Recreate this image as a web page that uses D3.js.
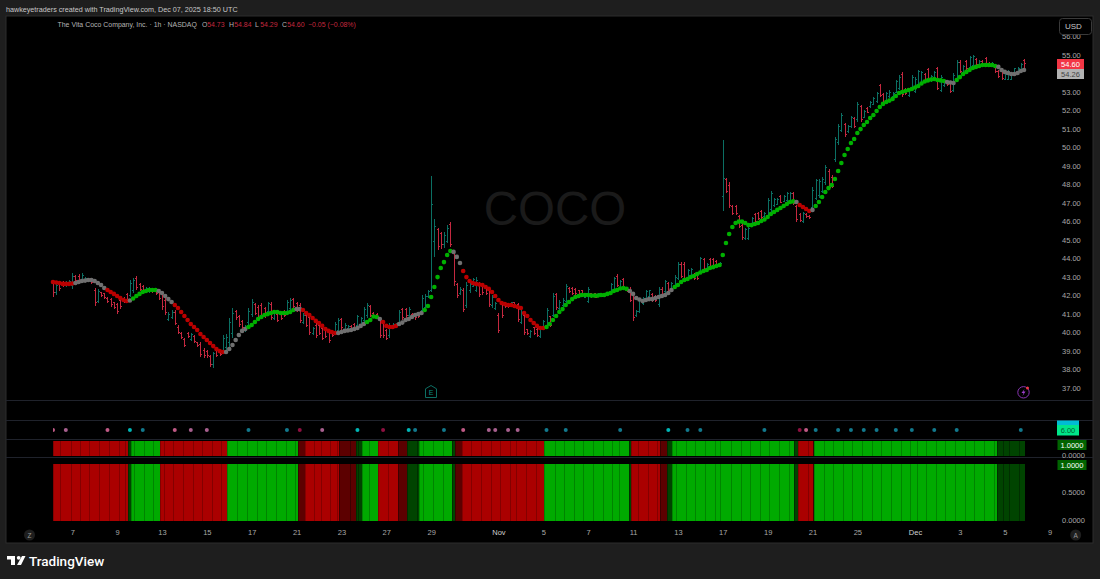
<!DOCTYPE html>
<html><head><meta charset="utf-8">
<script src="https://cdn.jsdelivr.net/npm/d3@7/dist/d3.min.js"></script>
<style>html,body{margin:0;padding:0;background:#1e1e1e;overflow:hidden}svg{display:block}text{font-family:"Liberation Sans",Arial,sans-serif}</style>
</head><body><svg id="c" width="1100" height="579"></svg>
<script>
const tickLabels=["7","9","13","15","17","21","23","27","29","Nov","5","7","11","13","17","19","21","25","Dec","3","5","9"];
const tickBars=[6,20,34,48,62,76,90,104,118,139,153,167,181,195,209,223,237,251,269,283,297,311];
const priceTicks=[37,38,39,40,41,42,43,44,45,46,47,48,49,50,51,52,53,54,55,56];
const opens=[
42.7,42.2,42.7,42.75,42.6,42.65,42.6,43.1,43.1,42.85,
42.85,42.95,42.95,42.35,41.75,42.2,42.15,41.9,41.85,41.65,
41.55,41.8,41.9,42.1,42.05,42.3,43,42.65,42.55,42.3,
42.25,42.4,42.3,42.25,42.1,41.8,40.75,40.85,41.15,40.35,
40,39.65,40,39.65,39.85,39.5,39.4,39.1,39.05,38.75,
38.3,39.1,38.95,39.1,39.25,39.5,40,41.2,40.9,40.65,
40.15,40.6,41.05,41.55,41.4,41.5,41.35,41.2,41.55,40.8,
41.05,41.05,41.2,41.2,41.35,41.85,41.6,41.5,40.6,41,
40.85,40,40.45,40.45,40.25,40.2,40.1,40.05,40.1,40.15,
40.75,40.15,40.25,40.4,40.5,40.45,40.45,40.7,41,41.45,
41.1,41.05,40.75,40.6,40.15,39.9,40.4,40.35,40.55,41.3,
41.3,40.95,41.05,41,41,41.25,41.4,42,42.35,45,
45.6,45.4,44.8,45,45.9,44.4,42.65,42.15,42.3,41.5,
42.3,42.55,42.35,42.65,42.6,42.55,42.4,41.5,41.35,41,
41.55,41.65,41.6,41.5,41.65,41.55,40.6,41,40.2,39.85,
40.3,40.2,39.85,40.25,40.45,40.9,41,42.1,41.35,41.5,
41.75,42.45,42.45,42.4,42.3,42.3,41.97,41.75,42.15,42.15,
42,42.15,42,42.05,42.25,42.35,43.1,42.5,42.9,42.45,
42.4,42.05,40.95,41.2,41.6,41.9,42,42.1,42,41.55,
42.4,42.25,42.7,42.4,42.55,43,43.75,43.75,43.05,43.1,
43.2,43.2,43.3,44,43.5,44,44,43.9,43.65,47.38,
48.3,48,46.85,46.85,46.3,45.85,45.15,45.15,45.85,46.45,
46.5,46.6,46.3,46.4,46.7,46.9,47,47.4,47.15,47.2,
47.2,47.55,46.85,46.45,46.05,46.45,46.35,46.8,47.3,47.45,
47.7,48.15,48.75,48.45,49.4,50.3,51,51.3,50.9,51.2,
51.6,51.55,52.25,51.7,52.15,52.25,52.4,52.55,53.4,52.9,
52.55,52.8,52.8,53.05,53.25,54,53.2,52.85,53.25,53.1,
53.4,53.5,54,54.25,53.65,53.8,54.3,53.15,53.4,53.65,
53.5,53.15,53.7,54.65,54.05,54.7,54.4,54.5,54.8,54.45,
54.7,54.85,54.6,54.45,54.45,54.15,54.15,53.75,53.75,53.75,
54,54.1,54.2,54.73];
const highs=[
42.89,42.73,42.78,42.84,42.84,42.89,43.27,43.16,43.22,43.27,
43.05,43,43,42.46,42.41,42.24,42.19,41.97,41.92,41.7,
41.65,41.92,41.97,42.19,42.89,43,43.11,42.73,42.62,42.51,
42.51,42.46,42.35,42.35,42.24,41.92,41.16,41.27,41.27,40.46,
40.08,39.76,40.08,40.03,39.92,39.54,39.54,39.22,39.11,38.84,
39,39.22,39,39.92,39.97,40.84,41.38,41.27,41,40.73,
40.46,41.38,41.86,41.65,41.54,41.65,41.43,41.7,41.7,41.27,
41.16,41.11,41.27,41.81,41.92,41.92,41.7,41.65,41.11,41.11,
41,40.35,40.57,40.57,40.35,40.3,40.19,40.08,40.62,40.84,
40.84,40.57,40.46,40.46,40.57,41,40.89,41.43,41.65,41.54,
41.16,41.11,40.84,40.73,40.24,40.57,40.57,40.57,41.27,41.38,
41.38,41.43,41.11,41.05,41.05,42.08,42.14,42.35,48.51,46.19,
45.7,45.49,45.49,45.86,46.03,44.51,42.73,42.51,42.46,42.78,
42.78,43,43.05,42.78,42.73,42.62,42.51,42.08,41.7,41.11,
41.65,41.7,41.65,41.7,41.7,41.65,41.27,41.16,40.24,40.19,
40.35,40.3,40.35,40.73,41.38,40.95,42.19,42.19,41.81,41.92,
42.68,42.51,42.51,42.46,42.35,42.35,42.19,42.51,42.19,42.19,
42.19,42.19,42.19,42.19,42.73,43.05,43.22,42.89,43,42.51,
42.51,42.19,41.27,41.92,41.97,42.35,42.35,42.19,42.08,42.51,
42.51,42.89,42.78,42.78,43.16,43.86,43.86,43.86,43.49,43.54,
43.27,43.27,44.14,44.08,43.81,44.08,44.08,43.97,43.86,50.46,
48.41,48.19,46.95,46.95,46.41,45.97,45.7,45.76,46.3,46.51,
46.57,46.68,46.57,47.32,47.7,47.32,47.32,47.49,47.49,47.65,
47.65,47.65,46.95,46.51,46.57,46.51,46.41,47.92,48.35,48.35,
48.46,49.11,48.89,48.57,50.62,51.32,51.92,51.38,51.27,51.76,
51.7,52.51,52.35,52.08,52.24,52.57,52.78,53.05,53.49,53,
53.05,53.16,53.05,53.7,53.97,54.14,53.27,53.27,53.97,53.86,
54.24,54.19,54.08,54.35,53.97,54.19,54.41,53.97,53.7,53.7,
53.59,54.08,54.78,54.78,54.51,54.78,55,55.05,54.89,54.78,
54.78,54.95,54.68,54.68,54.51,54.24,54.24,54.08,54.24,54.08,
54.35,54.41,54.62,54.84];
const lows=[
41.97,42.08,42.3,42.51,42.51,42.57,42.41,42.73,42.73,42.73,
42.78,42.78,42.68,41.49,41.65,41.97,41.86,41.65,41.43,41.32,
41.05,41.32,41.65,41.76,41.97,42.19,42.35,42.3,42.24,42.24,
42.19,42.19,42.08,41.81,41.27,41,40.68,40.78,40.46,39.97,
39.7,39.27,39.76,39.59,39.49,39.27,38.73,38.68,38.68,38.19,
38.14,38.73,38.78,39,39.11,39.27,39.76,40.73,40.35,40.19,
40.08,40.46,40.89,41,40.73,40.84,40.84,41.11,40.73,40.73,
40.62,40.73,40.89,41.11,41.27,41.38,41.16,40.57,40.51,40.35,
39.92,39.92,39.76,39.92,39.65,39.76,39.49,39.81,40.03,40.03,
40.19,40.08,40.19,40.19,40.19,40.35,40.35,40.57,40.84,40.89,
40.89,40.84,39.76,39.76,39.65,39.76,40.35,40.3,40.46,40.73,
40.84,40.84,40.84,40.73,40.84,41.11,41.27,41.92,42.24,44.14,
44.51,44.57,44.62,44.89,44.68,42.57,41.92,42.08,41.16,41.38,
42.19,42.51,42.24,41.97,42.08,42.08,41.43,41.38,41.27,40.03,
40.84,41.38,41.38,41.43,41.38,40.62,40.51,39.92,39.92,39.76,
39.92,39.81,39.76,40.19,40.35,40.35,40.89,41.27,41.27,41.43,
41.65,42.19,42.08,42.08,41.97,41.97,41.92,41.65,41.92,41.92,
41.97,41.97,41.97,42.03,42.19,42.24,42.51,42.46,42.35,42.24,
41.7,40.68,40.89,41.11,41.54,41.81,41.92,41.7,41.7,41.43,
41.97,42.19,42.24,42.35,42.46,42.89,43,42.89,43,43.05,
42.89,42.89,43.22,43.32,43.43,43.54,43.59,43.59,43.59,46.62,
47.59,46.78,46.41,46.41,45.7,45.05,45.05,45.05,45.76,45.97,
46.14,46.19,46.24,46.3,46.57,46.84,46.95,47.05,47.11,47.11,
47.11,46.95,46.03,46.03,45.97,46.24,46.19,46.68,47.22,47.32,
47.59,48.03,47.76,47.86,49.27,50.19,50.89,50.62,50.84,51.11,
51.11,51.43,51.43,51.65,51.92,52.19,52.35,52.46,52.78,52.35,
52.51,52.73,52.73,53,53.16,52.78,52.89,52.78,53.16,53,
53.32,53.43,53.59,53.7,53.59,53.76,53.16,53.05,53.32,53.38,
53,53.05,53.59,54.08,53.97,54.24,54.35,54.41,54.51,54.41,
54.41,54.41,54.41,54.41,54.08,53.81,53.7,53.7,53.7,53.7,
53.97,54.08,54.14,54.29];
const closes=[
42.2,42.6,42.45,42.6,42.75,42.8,43.1,42.85,42.85,43.15,
43,42.85,42.75,41.7,42.25,42.05,41.95,41.75,41.55,41.4,
41.2,41.45,41.75,41.85,42.7,42.85,42.5,42.4,42.35,42.45,
42.45,42.25,42.15,41.9,41.45,41.15,41.05,41.15,40.55,40.05,
39.8,39.35,39.85,39.95,39.55,39.35,38.85,38.8,38.8,38.3,
38.9,38.8,38.85,39.75,39.8,40.6,41.1,40.85,40.5,40.3,
40.4,41.2,41.7,41.1,40.85,41,40.95,41.6,40.85,41.15,
40.7,40.8,40.95,41.7,41.8,41.45,41.25,40.7,41,40.45,
40.05,40.25,39.9,40,39.75,39.85,39.6,39.9,40.5,40.7,
40.3,40.45,40.4,40.25,40.25,40.9,40.8,41.3,41.5,41,
40.95,40.9,39.9,39.9,39.75,40.45,40.5,40.5,41.15,40.85,
40.95,41.3,40.9,40.85,40.9,41.9,42,42.25,47,45.8,
44.7,44.8,45.3,45.7,44.8,42.8,42.05,42.4,41.3,42.6,
42.65,42.9,42.85,42.1,42.2,42.15,41.55,41.95,41.6,40.15,
40.95,41.45,41.45,41.65,41.45,40.75,41.15,40.05,40,40.1,
40,39.9,40.25,40.65,41.25,40.45,42,41.4,41.7,41.8,
42.55,42.25,42.15,42.15,42.05,42.05,42.15,42.4,42,41.97,
42.15,42,42.15,42.15,42.65,42.95,42.6,42.8,42.45,42.3,
41.8,40.85,41.2,41.8,41.9,42.25,42.3,41.8,41.8,42.4,
42.05,42.8,42.35,42.7,43.05,43.75,43.1,43,43.4,43.45,
42.95,42.95,44.05,43.4,43.75,43.6,43.65,43.65,43.8,48.4,
47.7,46.9,46.5,46.5,45.8,45.2,45.6,45.65,46.2,46.05,
46.2,46.25,46.5,47.2,47.55,47.25,47.25,47.1,47.4,47.55,
47.55,47.05,46.15,46.1,46.5,46.3,46.25,47.75,48.25,48.2,
48.35,48.95,47.9,47.95,50.5,51.2,51.8,50.75,51.2,51.65,
51.2,52.4,51.55,52,51.97,52.5,52.7,52.95,52.85,52.45,
52.95,53.05,53,53.6,53.85,52.9,52.95,53.2,53.85,53.75,
54.15,54.1,53.65,53.75,53.9,54.1,53.25,53.85,53.65,53.45,
53.1,53.95,54.65,54.15,54.45,54.3,54.9,54.95,54.55,54.7,
54.5,54.5,54.45,54.6,54.15,53.9,53.8,54,54.15,54,
54.3,54.35,54.55,54.6];
const maValues=[
42.78,42.76,42.73,42.68,42.68,42.68,42.7,42.73,42.78,42.84,
42.86,42.89,42.89,42.84,42.73,42.62,42.46,42.35,42.24,42.14,
42.03,41.92,41.81,41.76,41.78,41.89,42.03,42.14,42.24,42.3,
42.35,42.35,42.35,42.3,42.19,42.03,41.86,41.7,41.54,41.38,
41.16,40.95,40.73,40.51,40.35,40.19,39.97,39.81,39.65,39.49,
39.32,39.16,39.05,39,39,39.16,39.38,39.65,39.92,40.14,
40.24,40.35,40.46,40.62,40.78,40.89,41,41.05,41.11,41.16,
41.16,41.11,41.11,41.11,41.16,41.27,41.32,41.32,41.27,41.11,
41,40.84,40.68,40.57,40.41,40.24,40.14,40.08,40.03,40.03,
40.08,40.14,40.16,40.19,40.24,40.3,40.41,40.51,40.62,40.73,
40.92,40.89,40.78,40.62,40.41,40.35,40.35,40.41,40.51,40.59,
40.73,40.78,40.89,41,41.05,41.11,41.27,41.49,41.97,42.51,
43.05,43.54,43.86,44.24,44.46,44.41,44.14,43.81,43.38,43.05,
42.84,42.73,42.68,42.65,42.62,42.51,42.41,42.24,42.03,41.81,
41.65,41.59,41.54,41.54,41.49,41.43,41.38,41.11,40.95,40.73,
40.57,40.41,40.3,40.3,40.35,40.51,40.73,40.95,41.16,41.32,
41.54,41.7,41.86,41.97,42.03,42.08,42.08,42.08,42.05,42.05,
42.05,42.08,42.08,42.14,42.19,42.3,42.35,42.43,42.46,42.41,
42.3,42.14,41.92,41.84,41.76,41.81,41.86,41.86,41.92,41.97,
42.03,42.08,42.19,42.35,42.51,42.62,42.78,42.89,42.95,43.05,
43.11,43.22,43.3,43.38,43.43,43.54,43.59,43.65,43.7,44.24,
44.89,45.38,45.76,45.97,46.05,46.05,45.97,45.86,45.86,45.92,
45.97,46.08,46.16,46.3,46.46,46.57,46.68,46.78,46.89,47,
47.11,47.14,47.11,46.95,46.84,46.73,46.62,46.68,46.89,47.11,
47.38,47.65,47.86,48.03,48.35,48.78,49.22,49.65,49.97,50.3,
50.51,50.84,51.05,51.27,51.43,51.65,51.81,52.03,52.24,52.41,
52.51,52.59,52.68,52.84,53,53.05,53.11,53.16,53.22,53.3,
53.38,53.51,53.62,53.68,53.73,53.76,53.7,53.68,53.65,53.59,
53.57,53.54,53.7,53.86,54.03,54.14,54.24,54.35,54.41,54.46,
54.51,54.51,54.51,54.51,54.46,54.41,54.24,54.14,54.08,54.03,
54.03,54.08,54.19,54.24];
const maTrend=["R","A","R","A","G","A","R","A","G","A","R","A","G","A","R","A","G","A","R","G","A","G","A","R","A","G","A","G","A"];
const maTrendRuns=[7,10,7,1,8,5,16,7,15,2,11,9,4,1,5,8,9,3,26,26,14,38,1,4,1,41,3,13,9];
const blockStarts=[0,2.3,5.5,8.4,11.3,14.4,17.4,20.5,22.6,23.5,24.3,25.4,28.4,31.3,33.5,34.5,37.4,40.5,43.6,46.4,49.5,52.4,54.4,57.4,60.4,63.6,66.5,69.6,72.6,75.5,76.5,78.6,81.4,83.5,86.4,88.5,89.3,92.7,94.5,95.3,96.3,98.5,101.3,104.4,107.6,110.5,113.5,114.3,115.6,118.5,121.6,124.4,125.4,127.5,130.4,133.5,136.6,139.5,142.5,144.5,147.6,150.6,153.3,156.6,159.5,162.5,165.5,168.4,171.5,174.4,176.5,179.6,180.4,182.6,185.6,188.4,189.3,191.5,193.3,194.4,197.5,200.4,203.5,206.5,208.2,211.5,214.6,217.4,220.5,223.4,226.5,229.6,231.3,232.4,235.5,237.1,237.5,240.5,243.5,246.4,249.4,252.5,255.5,258.5,261.4,264.5,267.4,269.5,272.4,275.4,278.4,281.4,284.5,287.5,290.5,293.5,294.5,296.5,298.4,301.3];
const blockStateKinds=["R","g","G","R","G","r","R","r","g","G","R","r","g","G","g","r","R","G","g","R","r","g","G","g","R","r","G","g"];
const blockStateRuns=[9,1,4,8,8,1,5,2,2,2,2,1,2,4,1,1,9,9,1,4,1,1,14,1,2,1,20,4];
const blockEnd=303.3;
const blockValue=1;
const signalBars=[0,4,17,24,28,38,43,48,61,73,77,84,95,103,111,113,122,128,136,138,142,145,154,160,177,192,198,202,222,233,235,238,245,249,253,257,263,268,275,282,302];
const signalKinds=["p","m","p","c","t","p","m","m","t","t","d","m","c","d","c","t","t","p","m","m","m","m","t","t","t","c","t","t","t","d","p","t","t","t","t","t","t","t","t","t","t"];

const svg=d3.select("#c");
const L=53,R=1024;
const x=d3.scaleLinear().domain([0,303]).range([L,R]);
const y=d3.scaleLinear().domain([37,56]).range([389,37.5]);
const y3=d3.scaleLinear().domain([0,1]).range([456,441]);
const y4=d3.scaleLinear().domain([0,0.5,1]).range([521,492.6,464.3]);
const teal="#0b6f63",red="#c4283f";
const bgDark="#1e1e1e",line="#1f222b";

svg.append("rect").attr("width",1100).attr("height",579).attr("fill",bgDark);
svg.append("rect").attr("x",6).attr("y",16).attr("width",1087).attr("height",527).attr("fill","#000").attr("stroke","#2c2c2c").attr("stroke-width",1);
[400.5,420.5,439.5,457.5].forEach(v=>svg.append("line").attr("x1",6).attr("x2",1093).attr("y1",v).attr("y2",v).attr("stroke",line));

svg.append("text").attr("x",555).attr("y",224.5).attr("text-anchor","middle").attr("font-size",47.5).attr("fill","#1a1a1a").text("COCO");

const fsLegend=6.95;
svg.append("text").attr("x",6).attr("y",11.5).attr("font-size",7.2).attr("fill","#c8c8c8").text("hawkeyetraders created with TradingView.com, Dec 07, 2025 18:50 UTC");
svg.append("text").attr("x",57.5).attr("y",27).attr("font-size",fsLegend).attr("fill","#b4b4b4").text("The Vita Coco Company, Inc. · 1h · NASDAQ");
[["O","54.73",202],["H","54.84",229],["L","54.29",255],["C","54.60",282]].forEach(d=>{
  svg.append("text").attr("x",d[2]).attr("y",27).attr("font-size",fsLegend).attr("fill","#b4b4b4").text(d[0]);
  svg.append("text").attr("x",d[2]+5.2).attr("y",27).attr("font-size",fsLegend).attr("fill","#c4283f").text(d[1]);
});
svg.append("text").attr("x",308).attr("y",27).attr("font-size",fsLegend).attr("fill","#c4283f").text("−0.05 (−0.08%)");

const bars=d3.range(highs.length);
const gb=svg.append("g").attr("shape-rendering","crispEdges");
const col=i=>closes[i]>=opens[i]?teal:red;
gb.selectAll("line.hl").data(bars).join("line").attr("class","hl")
  .attr("x1",i=>Math.round(x(i))+.5).attr("x2",i=>Math.round(x(i))+.5)
  .attr("y1",i=>y(highs[i])).attr("y2",i=>y(lows[i])).attr("stroke",col);
gb.selectAll("line.o").data(bars).join("line").attr("class","o")
  .attr("x1",i=>Math.round(x(i))-1).attr("x2",i=>Math.round(x(i))+.5)
  .attr("y1",i=>y(opens[i])).attr("y2",i=>y(opens[i])).attr("stroke",col);
gb.selectAll("line.c").data(bars).join("line").attr("class","c")
  .attr("x1",i=>Math.round(x(i))+.5).attr("x2",i=>Math.round(x(i))+2)
  .attr("y1",i=>y(closes[i])).attr("y2",i=>y(closes[i])).attr("stroke",col);

const trendColor={G:"#00b000",R:"#bb0000",A:"#707070"};
const trend=[];maTrend.forEach((s,k)=>{for(let n=0;n<maTrendRuns[k];n++)trend.push(s)});
svg.append("g").selectAll("circle").data(maValues).join("circle")
  .attr("cx",(d,i)=>x(i)).attr("cy",d=>y(d)).attr("r",2.3).attr("fill",(d,i)=>trendColor[trend[i]]);

svg.append("clipPath").attr("id","sig").append("rect").attr("x",53).attr("y",421).attr("width",1000).attr("height",18);
const sigColor={p:"#c05a85",m:"#a8608e",c:"#00b5b5",t:"#12788c",d:"#8e1040"};
svg.append("g").attr("clip-path","url(#sig)").selectAll("circle").data(signalBars).join("circle")
  .attr("cx",d=>x(d)).attr("cy",430).attr("r",2).attr("fill",(d,i)=>sigColor[signalKinds[i]]);

const blockStates=[];blockStateKinds.forEach((s,k)=>{for(let n=0;n<blockStateRuns[k];n++)blockStates.push(s)});
const stateFill={G:"#00aa00",R:"#aa0000",g:"#004400",r:"#5c0000"};
const stateEdge={G:"#008400",R:"#840000",g:"#002e00",r:"#3c0000"};
[y3,y4].forEach(sc=>{
  const g=svg.append("g").attr("shape-rendering","crispEdges");
  g.selectAll("rect").data(blockStarts).join("rect")
   .attr("x",d=>x(d)).attr("width",(d,i)=>x(i+1<blockStarts.length?blockStarts[i+1]:blockEnd)-x(d))
   .attr("y",sc(blockValue)).attr("height",sc(0)-sc(blockValue)).attr("fill",(d,i)=>stateFill[blockStates[i]]);
  g.selectAll("line").data(blockStarts).join("line")
   .attr("x1",d=>Math.round(x(d))+.5).attr("x2",d=>Math.round(x(d))+.5)
   .attr("y1",sc(blockValue)).attr("y2",sc(0)).attr("stroke",(d,i)=>stateEdge[blockStates[i]]);
});

const axisFont=g=>{g.select(".domain").remove();g.selectAll(".tick line").remove();
  g.selectAll("text").attr("font-size",7.5).attr("fill","#a8a8a8").attr("font-family",'"Liberation Sans",Arial,sans-serif');};
svg.append("g").attr("transform","translate(1062,-1)")
  .call(d3.axisRight(y).tickValues(priceTicks).tickFormat(d3.format(".2f")).tickSize(0).tickPadding(0)).call(axisFont);
svg.append("g").attr("transform","translate(1062,-0.5)")
  .call(d3.axisRight(y4).tickValues([0,0.5]).tickFormat(d3.format(".4f")).tickSize(0).tickPadding(0)).call(axisFont);
svg.append("g").attr("transform","translate(1062,-0.5)")
  .call(d3.axisRight(y3).tickValues([0]).tickFormat(d3.format(".4f")).tickSize(0).tickPadding(0)).call(axisFont);
const xa=svg.append("g").attr("transform","translate(0,527)")
  .call(d3.axisBottom(x).tickValues(tickBars).tickFormat((d,i)=>tickLabels[i]).tickSize(0).tickPadding(3)).call(axisFont);
xa.selectAll("text").filter(function(){const t=d3.select(this).text();return t==="Nov"||t==="Dec"}).attr("fill","#d0d0d0");

function tag(x0,y0,w,h,fill,txt,color){
  svg.append("rect").attr("x",x0).attr("y",y0).attr("width",w).attr("height",h).attr("fill",fill);
  svg.append("text").attr("x",x0+w/2).attr("y",y0+h/2+2.7).attr("text-anchor","middle").attr("font-size",7.5).attr("fill",color).text(txt);
}
svg.append("rect").attr("x",1059.5).attr("y",18.5).attr("width",32).attr("height",16).attr("rx",3).attr("fill","#000").attr("stroke","#3a3a3a");
svg.append("text").attr("x",1065).attr("y",29).attr("font-size",8).attr("fill","#c8c8c8").text("USD");
tag(1057,59,27,10,"#f23645","54.60","#fff");
tag(1057,69,27,10,"#b2b2b2","54.26","#444");
tag(1057,420.5,22,5,"#00bcd4","","#000");
tag(1057,425,22,10.5,"#00e68a","6.00","#063");
tag(1057.5,440,29,10,"#006400","1.0000","#fff");
tag(1057.5,460,29,10,"#006400","1.0000","#fff");

svg.append("path").attr("d","M425.5 388.8 L431 385.5 L436.5 388.8 L436.5 397.5 L425.5 397.5 Z").attr("fill","none").attr("stroke","#0d6e63").attr("stroke-width",1);
svg.append("text").attr("x",431).attr("y",394.5).attr("text-anchor","middle").attr("font-size",7).attr("fill","#0d8e80").text("E");
svg.append("circle").attr("cx",1023.5).attr("cy",392.3).attr("r",5.7).attr("fill","none").attr("stroke","#8a35b5").attr("stroke-width",1);
svg.append("path").attr("d","M1024.5 389 L1021.5 393 L1023.5 393 L1022.5 396 L1025.5 391.6 L1023.5 391.6 Z").attr("fill","#a040d0");
svg.append("circle").attr("cx",1027.5).attr("cy",388).attr("r",1.5).attr("fill","#f23645");
[[29.5,"Z"],[1075.7,"A"]].forEach(d=>{
  svg.append("circle").attr("cx",d[0]).attr("cy",535).attr("r",5.5).attr("fill","#1e1e1e");
  svg.append("text").attr("x",d[0]).attr("y",537.5).attr("text-anchor","middle").attr("font-size",6.5).attr("fill","#999").text(d[1]);
});
svg.append("path").attr("fill","#fff").attr("d","M7 556H15V565H11V559.5H7Z M22 556H25.5L21 565H17Z");
svg.append("circle").attr("cx",18.7).attr("cy",557.8).attr("r",1.9).attr("fill","#fff");
svg.append("text").attr("x",29).attr("y",565.5).attr("font-size",13.5).attr("font-weight",500).attr("fill","#fff").style("font-family","Roboto,sans-serif").text("TradingView");
</script></body></html>
